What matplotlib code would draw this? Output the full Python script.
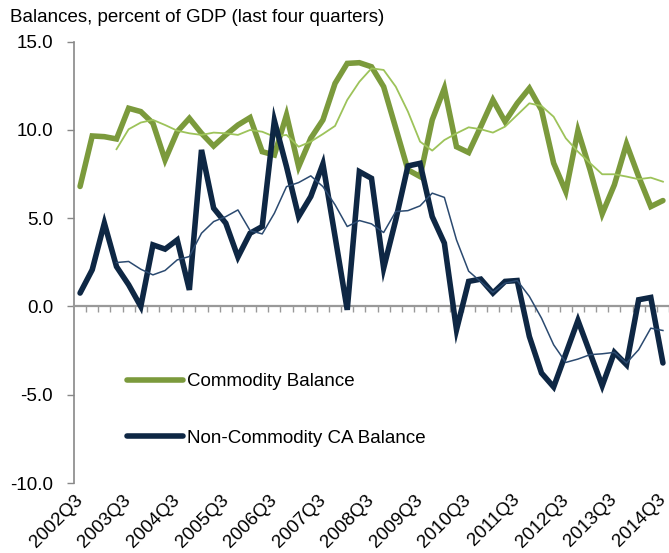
import matplotlib
matplotlib.use("Agg")
import matplotlib.pyplot as plt
import matplotlib.transforms as mtransforms
import numpy as np

plt.rcParams['font.family'] = ['Liberation Sans', 'DejaVu Sans']

quarters = [f"{y}Q{q}" for y in range(2002, 2015) for q in range(1, 5)][2:51]
tick_labels = [f"{y}Q3" for y in range(2002, 2015)]

commodity = [6.8, 9.66, 9.62, 9.49, 11.23, 11.04, 10.38, 8.30, 9.9, 10.66, 9.81, 9.09, 9.72,
             10.28, 10.7, 8.77, 8.58, 10.85, 7.92, 9.53, 10.57, 12.64, 13.77, 13.81, 13.58,
             12.45, 10.1, 7.74, 7.36, 10.57, 12.36, 9.05, 8.72, 10.19, 11.7, 10.47, 11.51,
             12.36, 11.13, 8.12, 6.51, 9.96, 7.74, 5.25, 6.89, 9.21, 7.36, 5.66, 6.0]

commodity_avg = [None, None, None, 8.91, 10.04, 10.42, 10.57, 10.28, 9.96, 9.81, 9.72, 9.85,
                 9.81, 9.72, 10.0, 9.9, 9.62, 9.72, 9.05, 9.34, 9.77, 10.23, 11.7, 12.73, 13.49,
                 13.4, 12.45, 11.04, 9.34, 8.83, 9.43, 9.81, 10.15, 10.04, 9.85, 10.19, 10.85,
                 11.51, 11.36, 10.75, 9.53, 8.77, 8.12, 7.49, 7.49, 7.36, 7.21, 7.3, 7.07]

noncommodity = [0.76, 2.08, 4.72, 2.26, 1.23, 0.0, 3.49, 3.25, 3.77, 0.94, 8.87, 5.57, 4.72,
                2.8, 4.15, 4.53, 10.53, 7.92, 5.09, 6.23, 8.08, 3.96, -0.19, 7.64, 7.26, 2.17,
                4.91, 7.96, 8.11, 5.09, 3.59, -1.32, 1.42, 1.55, 0.76, 1.42, 1.47, -1.7, -3.77,
                -4.56, -2.68, -0.79, -2.64, -4.49, -2.6, -3.3, 0.38, 0.51, -3.2]

noncommodity_avg = [None, None, None, 2.49, 2.55, 2.11, 1.79, 2.04, 2.64, 2.83, 4.15, 4.81,
                    5.09, 5.47, 4.3, 4.11, 5.28, 6.79, 7.02, 7.4, 6.79, 5.76, 4.53, 4.87, 4.68,
                    4.19, 5.38, 5.43, 5.7, 6.42, 6.18, 3.77, 2.0, 1.4, 0.8, 1.32, 1.47, 0.57,
                    -0.66, -2.17, -3.17, -2.98, -2.73, -2.68, -2.6, -3.2, -2.45, -1.23, -1.36]

def arr(v):
    return np.array([np.nan if a is None else a for a in v], dtype=float)

x = np.arange(len(quarters))
FS = 13.5

fig = plt.figure(figsize=(6.69, 5.53), dpi=100)
ax = fig.add_axes([74/669, 70/553, 595/669, (483-41.7)/553])

green = '#7B9A3C'
green_thin = '#9DC35A'
navy = '#0E2744'
navy_thin = '#2B4A70'

l1, = ax.plot(x, arr(commodity), color=green, lw=4.0, solid_joinstyle='miter',
              solid_capstyle='round', label='Commodity Balance', zorder=3)
ax.plot(x, arr(commodity_avg), color=green_thin, lw=1.3, zorder=4)
l2, = ax.plot(x, arr(noncommodity), color=navy, lw=4.0, solid_joinstyle='miter',
              solid_capstyle='round', label='Non-Commodity CA Balance', zorder=5)
ax.plot(x, arr(noncommodity_avg), color=navy_thin, lw=1.1, zorder=6)

ax.set_xlim(-0.5, len(quarters) - 0.5)
ax.set_ylim(-10, 15)
ax.set_yticks([-10, -5, 0, 5, 10, 15])
ax.set_yticklabels([f"{v:.1f}" for v in [-10, -5, 0, 5, 10, 15]], fontsize=FS)
ax.tick_params(axis='y', direction='out', length=5, width=1, color='#888888', pad=10)

for s in ['top', 'right']:
    ax.spines[s].set_visible(False)
ax.spines['left'].set_color('#888888')
ax.spines['left'].set_linewidth(1.2)
ax.spines['bottom'].set_position(('data', 0))
ax.spines['bottom'].set_color('#999999')
ax.spines['bottom'].set_linewidth(1.6)

ax.set_xticks([])
ax.set_xticks(np.arange(0.5, len(quarters)), minor=True)
ax.tick_params(axis='x', which='minor', direction='out', length=4, width=1, color='#999999')
ax.tick_params(axis='x', which='major', length=0)

sec = ax.secondary_xaxis(0.0)
sec.set_xticks(np.arange(0, len(quarters), 4))
sec.set_xticklabels(tick_labels, rotation=45, ha='right', va='top',
                    rotation_mode='anchor', fontsize=FS)
sec.tick_params(length=0, pad=6)
sec.spines['bottom'].set_visible(False)
shift = mtransforms.ScaledTranslation(-6/100, 0, fig.dpi_scale_trans)
for lab in sec.get_xticklabels():
    lab.set_transform(lab.get_transform() + shift)

fig.text(10/669, 1 - 18/553, 'Balances, percent of GDP (last four quarters)',
         fontsize=FS, va='center', ha='left')

ax.legend(handles=[l1, l2], loc='upper left', bbox_to_anchor=(0.089, 0.249),
          frameon=False, fontsize=FS, handlelength=3.0, handletextpad=0.2,
          labelspacing=2.1, borderaxespad=0, borderpad=0)

fig.savefig('out.png', dpi=100)
